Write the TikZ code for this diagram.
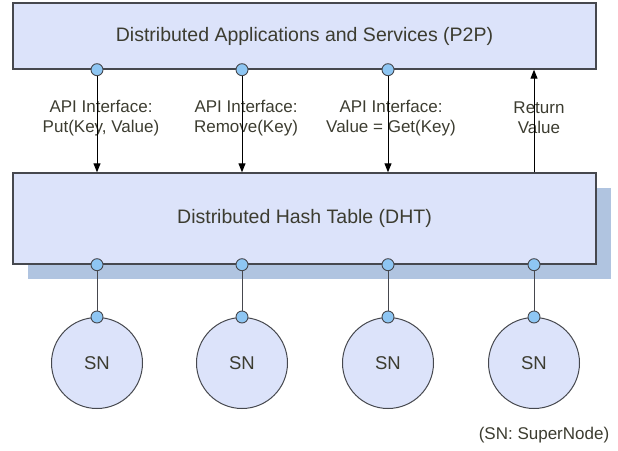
\documentclass[tikz,border=0pt]{standalone}
\usepackage{fontspec}
\setmainfont{Liberation Sans}
\usetikzlibrary{arrows.meta,shadows}
\definecolor{boxblue}{RGB}{220,227,250}
\definecolor{shadeblue}{RGB}{176,196,224}
\definecolor{portblue}{RGB}{142,198,243}
\definecolor{edgegray}{RGB}{70,72,78}
\definecolor{inkgray}{RGB}{60,60,48}

\begin{document}
\begin{tikzpicture}[x=1pt,y=-1pt,
    layerbox/.style={draw=edgegray, fill=boxblue, line width=1.4pt, minimum width=583pt,
      inner sep=0pt, text=inkgray, font=\fontsize{19.5}{22}\selectfont},
    port/.style={circle, draw=edgegray, fill=portblue, line width=0.9pt, inner sep=0pt,
      minimum size=12pt},
    supernode/.style={circle, draw=edgegray, fill=boxblue, line width=1pt, inner sep=0pt,
      minimum size=91pt, text=inkgray, font=\fontsize{18.5}{20}\selectfont},
    apilabel/.style={align=center, text=inkgray, font=\fontsize{17}{20}\selectfont},
    call/.style={-{Triangle[length=9pt,width=7pt]}, line width=1pt}]
    \useasboundingbox (0,0) rectangle (618,450);
    % Couches
    \node[layerbox, minimum height=66pt] (apps) at (304.5,36) {Distributed Applications and Services (P2P)};
    \node[layerbox, minimum height=91pt,
      general shadow={fill=shadeblue, shadow xshift=15pt, shadow yshift=-15pt}] (dht) at (304.5,218.5) {Distributed Hash Table (DHT)};
    % Super-noeuds
    \foreach \i/\x in {1/97,2/242,3/388,4/534} {
        \node[supernode] (sn\i) at (\x,363) {SN};
        \node[port] (q\i) at (dht.south -| sn\i) {};
        \node[port] (t\i) at (sn\i.north) {};
        \draw[edgegray, line width=1pt] (q\i) -- (t\i);
    }
    % Etiquettes API
    \node[apilabel] (lput) at (101,118) {API Interface:\\Put(Key, Value)};
    \node[apilabel] (lremove) at (246,118) {API Interface:\\Remove(Key)};
    \node[apilabel] (lget) at (391,118) {API Interface:\\Value = Get(Key)};
    \node[apilabel] (lreturn) at (539,118) {Return\\Value};
    \node[apilabel] (legend) at (544,435) {(SN: SuperNode)};
    % Appels
    \foreach \i in {1,2,3} {
        \node[port] (p\i) at (apps.south -| sn\i) {};
        \draw[call] (p\i) -- (p\i |- dht.north);
    }
    \draw[call] (dht.north -| q4) -- (apps.south -| q4);
\end{tikzpicture}
\end{document}
